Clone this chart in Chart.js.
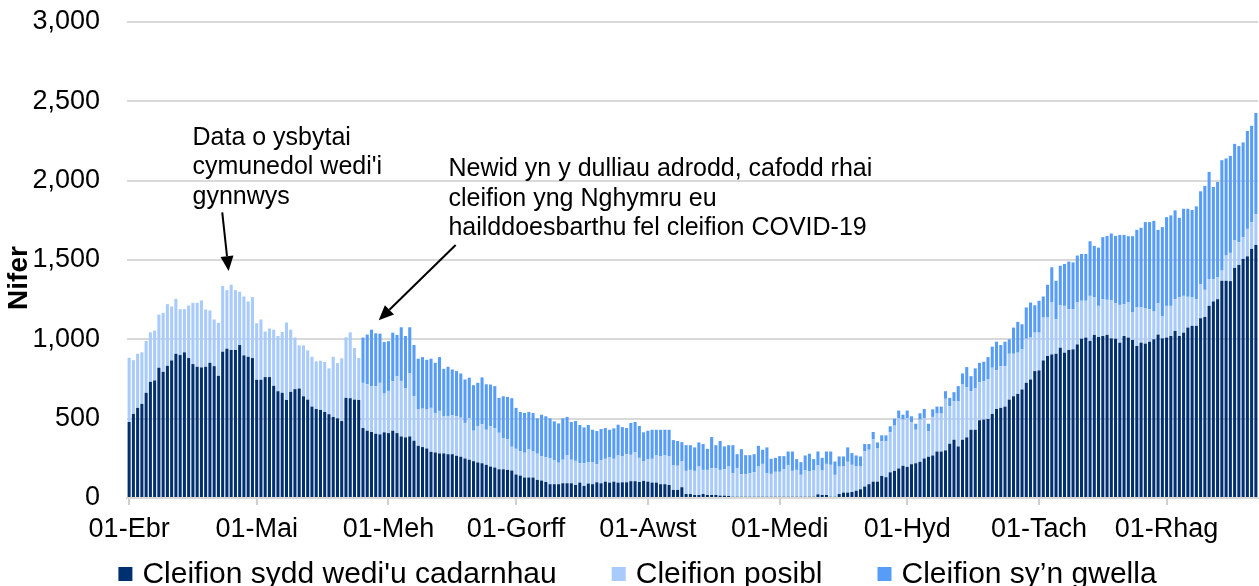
<!DOCTYPE html>
<html>
<head>
<meta charset="utf-8">
<script src="https://cdn.jsdelivr.net/npm/chart.js@4/dist/chart.umd.min.js"></script>
<style>
  html, body { margin: 0; padding: 0; background: #fff; }
  #wrap { width: 1259px; height: 586px; }
</style>
</head>
<body>
<div id="wrap"><canvas id="chartCleifion" width="1259" height="586"></canvas></div>
<script>
// Misoedd (categories) – 01-Ebr hyd 22-Rhag
const misoedd = ['Ebr', 'Mai', 'Meh', 'Gorff', 'Awst', 'Medi', 'Hyd', 'Tach', 'Rhag'];
const dyddiauYmMis = [30, 31, 30, 31, 31, 30, 31, 30, 22];

// Cleifion sydd wedi'u cadarnhau
const cadarnhau = [
  479,530,568,593,663,732,741,821,795,833,867,909,901,918,882,844,827,823,827,852,831,770,922,941,933,933,964,899,890,882,
  745,745,762,762,707,673,663,618,669,686,690,641,620,576,561,555,542,528,511,502,485,631,629,620,618,
  441,424,416,405,401,414,409,424,409,388,382,388,361,329,321,312,291,287,281,281,276,276,266,260,249,241,232,224,219,209,198,192,181,
  181,177,173,148,141,129,129,129,114,110,101,87,87,87,93,93,93,82,97,76,91,87,99,93,103,97,103,97,99,99,106,106,101,108,103,97,97,87,87,82,51,51,68,25,25,
  19,19,25,19,19,19,15,15,13,8,8,8,8,8,8,8,8,8,8,8,8,8,8,8,8,8,8,8,8,23,19,19,8,8,25,34,34,38,46,55,72,87,103,103,
  139,131,162,171,186,203,196,213,219,228,249,260,268,293,293,300,342,367,325,367,382,430,430,490,494,498,530,561,568,576,620,641,656,684,726,747,800,804,867,895,905,909,947,916,933,
  937,968,1004,1011,990,1028,1015,1021,1028,1006,1004,979,1021,1011,996,958,979,973,985,1000,1030,1006,1011,1021,1053,1021,1042,1074,1085,1085,1133,1141,1211,1239,1253,1369,1369,1367,1450,1469,1507,1523,1570,1595
];

// Cleifion posibl
const posibl = [
  405,339,341,325,327,312,314,335,372,389,340,346,289,272,331,386,403,422,361,330,294,334,414,369,411,377,336,371,349,384,
  356,380,287,306,354,348,384,488,392,325,272,321,310,314,300,310,315,289,379,348,395,382,415,325,264,
  285,293,289,300,325,244,266,312,359,350,308,397,280,232,242,245,277,249,268,236,241,245,249,246,224,261,192,230,247,221,254,249,230,
  197,194,150,162,154,156,177,164,165,152,156,164,151,135,148,175,148,152,122,143,135,137,114,145,144,158,144,171,163,177,166,181,152,122,140,150,171,175,181,180,154,152,162,146,152,
  152,179,152,158,169,169,162,166,185,148,180,142,142,148,154,190,207,148,144,157,157,173,197,163,169,138,165,159,165,182,154,196,201,138,173,164,194,171,152,143,221,217,268,209,
  218,226,252,285,316,291,308,266,211,266,255,160,243,239,239,325,236,243,285,348,316,243,260,240,242,249,291,245,263,255,289,268,260,253,278,264,242,238,270,242,327,218,268,295,257,
  253,264,239,232,284,236,196,232,221,241,222,238,201,221,173,243,222,221,205,175,198,138,200,190,200,243,232,194,179,168,215,171,169,141,137,64,159,178,173,143,137,173,169,194
];

// Cleifion sy'n gwella
const gwella = [
  0,0,0,0,0,0,0,0,0,0,0,0,0,0,0,0,0,0,0,0,0,0,0,0,0,0,0,0,0,0,
  0,0,0,0,0,0,0,0,0,0,0,0,0,0,0,0,0,0,0,0,0,0,0,0,0,
  285,313,356,333,310,325,313,306,260,338,331,291,323,317,325,314,310,316,339,297,310,289,285,279,274,256,287,272,294,287,263,264,220,
  263,266,306,258,247,251,236,243,223,263,258,251,245,248,261,243,238,251,241,226,234,206,209,197,194,175,192,194,185,165,201,192,201,184,181,183,162,168,162,168,160,156,122,162,156,
  148,152,163,133,196,145,182,144,135,177,88,158,120,114,114,131,89,163,95,88,99,83,88,122,68,80,95,112,72,88,80,78,84,84,64,64,91,74,70,64,47,36,45,38,
  38,38,38,44,49,31,47,36,38,40,57,48,48,44,44,48,53,57,95,70,127,95,127,122,123,141,133,179,133,154,91,165,194,158,197,221,173,201,133,207,222,242,249,264,300,
  295,296,295,295,344,325,367,391,403,420,426,441,436,418,481,489,502,545,549,572,462,563,559,570,560,502,549,555,551,585,585,655,675,580,602,696,612,611,609,606,597,617,607,638
];

const ticksY = [0, 500, 1000, 1500, 2000, 2500, 3000];

// labeli dyddiad: "01-Ebr", "02-Ebr", ...
let labeli = [];
misoedd.forEach((mis, m) => {
  for (let d = 1; d <= dyddiauYmMis[m]; d++) {
    labeli.push((d < 10 ? '0' + d : '' + d) + '-' + mis);
  }
});

// nodiadau: safle yn ôl mynegai'r bar a gwerth yr echelin
const nodiadau = [
  { llinellau: ['Data o ysbytai', "cymunedol wedi'i", 'gynnwys'], testun: [14.9, 2270], o: [21.9, 1800], i: [23.4, 1430] },
  { llinellau: ['Newid yn y dulliau adrodd, cafodd rhai', 'cleifion yng Nghymru eu', 'hailddoesbarthu fel cleifion COVID-19'], testun: [75.1, 2070], o: [76.8, 1595], i: [58.7, 1120] }
];

const ffont = "'Liberation Sans', Arial, sans-serif";

const extras = {
  id: 'extras',
  afterDraw(chart) {
    const ctx = chart.ctx;
    const x = chart.scales.x, y = chart.scales.y;
    ctx.save();

    // teitl echelin Y
    ctx.save();
    ctx.translate(19, (y.top + y.bottom) / 2 + 18);
    ctx.rotate(-Math.PI / 2);
    ctx.font = 'bold 28px ' + ffont;
    ctx.fillStyle = '#000';
    ctx.textAlign = 'center';
    ctx.textBaseline = 'middle';
    ctx.fillText('Nifer', 0, 0);
    ctx.restore();

    // nodiadau a saethau
    ctx.font = '25px ' + ffont;
    ctx.fillStyle = '#000';
    ctx.strokeStyle = '#000';
    ctx.textAlign = 'left';
    ctx.textBaseline = 'middle';
    nodiadau.forEach(n => {
      const tx = x.getPixelForValue(n.testun[0]);
      const ty = y.getPixelForValue(n.testun[1]);
      n.llinellau.forEach((l, k) => ctx.fillText(l, tx, ty + k * 29.5));
      const x1 = x.getPixelForValue(n.o[0]), y1 = y.getPixelForValue(n.o[1]);
      const x2 = x.getPixelForValue(n.i[0]), y2 = y.getPixelForValue(n.i[1]);
      const ang = Math.atan2(y2 - y1, x2 - x1);
      const hl = 15, hw = 6.5;
      const bx = x2 - hl * Math.cos(ang), by = y2 - hl * Math.sin(ang);
      ctx.lineWidth = 2;
      ctx.beginPath();
      ctx.moveTo(x1, y1);
      ctx.lineTo(bx, by);
      ctx.stroke();
      ctx.beginPath();
      ctx.moveTo(x2, y2);
      ctx.lineTo(bx + hw * Math.sin(ang), by - hw * Math.cos(ang));
      ctx.lineTo(bx - hw * Math.sin(ang), by + hw * Math.cos(ang));
      ctx.closePath();
      ctx.fill();
    });

    // allwedd
    ctx.font = '30px ' + ffont;
    const box = 14, gap = 10, bwlch = 55;
    const items = chart.data.datasets.map(ds => ({ label: ds.label, color: ds.backgroundColor, w: box + gap + ctx.measureText(ds.label).width }));
    const cyfanswm = items.reduce((s, it) => s + it.w, 0) + bwlch * (items.length - 1);
    let lx = chart.width / 2 + 8 - cyfanswm / 2;
    const ly = 574;
    items.forEach(it => {
      ctx.fillStyle = it.color;
      ctx.fillRect(lx, ly - box / 2, box, box);
      ctx.fillStyle = '#000';
      ctx.fillText(it.label, lx + box + gap, ly + 1);
      lx += it.w + bwlch;
    });
    ctx.restore();
  }
};

new Chart(document.getElementById('chartCleifion'), {
  type: 'bar',
  data: {
    labels: labeli,
    datasets: [
      { label: "Cleifion sydd wedi'u cadarnhau", data: cadarnhau, backgroundColor: '#003070' },
      { label: 'Cleifion posibl', data: posibl, backgroundColor: '#A8CBFC' },
      { label: 'Cleifion sy\u2019n gwella', data: gwella, backgroundColor: '#579DF8' }
    ]
  },
  options: {
    responsive: false,
    animation: false,
    layout: { padding: { top: 22, right: 1, bottom: 43, left: 0 } },
    datasets: { bar: { categoryPercentage: 1, barPercentage: 0.72 } },
    plugins: { legend: { display: false }, tooltip: { enabled: false } },
    scales: {
      x: {
        stacked: true,
        afterBuildTicks: s => { s.ticks = s.ticks.filter(t => labeli[t.value].startsWith('01-')); },
        afterFit: s => { s.height = 45; },
        grid: { offset: false, drawOnChartArea: false, drawTicks: true, tickLength: 7, color: '#D0D0D0', lineWidth: 2 },
        border: { display: true, color: '#D9D9D9', width: 2 },
        ticks: { autoSkip: false, maxRotation: 0, padding: 8, color: '#000', font: { family: ffont, size: 27 } }
      },
      y: {
        stacked: true,
        min: 0,
        max: 3000,
        afterBuildTicks: s => { s.ticks = ticksY.map(v => ({ value: v })); },
        afterFit: s => { s.width = 127; s.paddingTop = 0; s.paddingBottom = 0; },
        grid: { color: '#D9D9D9', lineWidth: 2, drawTicks: false },
        border: { display: false },
        ticks: { padding: 27, color: '#000', font: { family: ffont, size: 27 } }
      }
    }
  },
  plugins: [extras]
});
</script>
</body>
</html>
